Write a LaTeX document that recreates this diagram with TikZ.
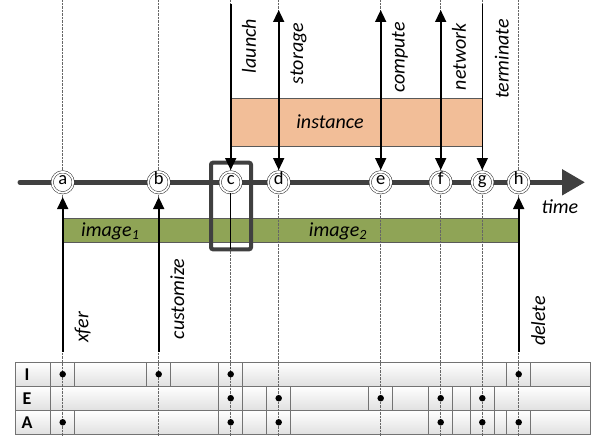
\documentclass[tikz,border=0pt]{standalone}
\usepackage{fontspec}
\setmainfont{Carlito}
\usetikzlibrary{arrows.meta}
\definecolor{tlgray}{HTML}{404040}
\definecolor{peach}{HTML}{F2BE98}
\definecolor{olivebar}{HTML}{8FA456}
\begin{document}
\begin{tikzpicture}[x=1pt,y=-1pt,
  lbl/.style={font=\fontsize{20}{20}\selectfont\itshape, inner sep=0},
  vlbl/.style={lbl, rotate=90},
  ev/.style={circle, draw=black!85, line width=0.5pt, double=white, double distance=1.8pt, fill=white, minimum size=21pt, inner sep=0, font=\fontsize{18.5}{18.5}\selectfont, text height=0.72em, text depth=0.2em},
  arr/.style={line width=1.6pt, -{Triangle[length=12pt,width=11pt]}},
  darr/.style={line width=1.6pt, {Triangle[length=12pt,width=11pt]}-{Triangle[length=12pt,width=11pt]}},
  guide/.style={black!60, line width=0.6pt, dash pattern=on 0.7pt off 0.7pt},
  tcellst/.style={draw=black!55, line width=0.6pt, top color=white, bottom color=black!12},
  rowlbl/.style={font=\fontsize{18}{18}\selectfont\bfseries, inner sep=0},
  dotst/.style={circle, fill=black, inner sep=0, minimum size=6.5pt}
]
\useasboundingbox (0,0) rectangle (592,436);

% bars
\draw[draw=black!65, line width=0.6pt, fill=peach] (230.7,98.3) rectangle (482.3,146);
\draw[draw=black!65, line width=0.6pt, fill=olivebar] (62.7,218.3) rectangle (518.7,242.3);

% table
\foreach \xl/\xr in {15/50.7,50.7/74.7,74.7/146.7,146.7/170.7,170.7/218.7,218.7/242.7,242.7/506.7,506.7/530.7,530.7/590}
  \draw[tcellst] (\xl,362.3) rectangle (\xr,386);
\foreach \xl/\xr in {15/50.7,50.7/218.7,218.7/242.7,242.7/266.7,266.7/290.7,290.7/368.7,368.7/392.7,392.7/428.7,428.7/452.7,452.7/470.3,470.3/494.3,494.3/590}
  \draw[tcellst] (\xl,386) rectangle (\xr,410.3);
\foreach \xl/\xr in {15/50.7,50.7/74.7,74.7/218.7,218.7/242.7,242.7/266.7,266.7/290.7,290.7/428.7,428.7/452.7,452.7/470.3,470.3/494.3,494.3/506.7,506.7/530.7,530.7/590}
  \draw[tcellst] (\xl,410.3) rectangle (\xr,434.3);
\node[rowlbl] (rI) at (27,374.2) {I};
\node[rowlbl] (rE) at (27,398.2) {E};
\node[rowlbl] (rA) at (27,422.3) {A};

% guide lines
\foreach \x in {62.7,158.7,230.7,278.7,380.7,440.7,482.3,518.7}
  \draw[guide] (\x,0) -- (\x,436);

% dots
\foreach \x in {62.7,158.7,230.7,518.7}
  \node[dotst] at (\x,374.2) {};
\foreach \x in {230.7,278.7,380.7,440.7,482.3}
  \node[dotst] at (\x,398.2) {};
\foreach \x in {62.7,230.7,278.7,440.7,482.3,518.7}
  \node[dotst] at (\x,422.3) {};

% focus rectangle
\draw[tlgray, line width=4pt, rounded corners=2pt] (211,162.7) rectangle (251,249.3);

% timeline
\coordinate (tstart) at (20,182.3);
\coordinate (tend) at (585,182.3);
\draw[tlgray, line width=5pt, line cap=round, -{Triangle[length=23pt,width=25pt]}] (tstart) -- (tend);

% events
\node[ev] (ca) at (62.7,182.3) {a};
\node[ev] (cb) at (158.7,182.3) {b};
\node[ev] (cc) at (230.7,182.3) {c};
\node[ev] (cd) at (278.7,182.3) {d};
\node[ev] (ce) at (380.7,182.3) {e};
\node[ev] (cf) at (440.7,182.3) {f};
\node[ev] (cg) at (482.3,182.3) {g};
\node[ev] (ch) at (518.7,182.3) {h};

% top connectors
\coordinate (launchtop) at (230.7,4);
\coordinate (storagetop) at (278.7,10);
\coordinate (computetop) at (380.7,10);
\coordinate (networktop) at (440.7,10);
\coordinate (terminatetop) at (482.3,4);
\draw[arr, shorten >=1.5pt] (launchtop) -- (cc.north);
\draw[darr, shorten >=1.5pt] (storagetop) -- (cd.north);
\draw[darr, shorten >=1.5pt] (computetop) -- (ce.north);
\draw[darr, shorten >=1.5pt] (networktop) -- (cf.north);
\draw[arr, shorten >=1.5pt] (terminatetop) -- (cg.north);

% bottom connectors
\coordinate (xferbot) at (62.7,351.7);
\coordinate (custbot) at (158.7,351.7);
\coordinate (delbot) at (518.7,351.7);
\coordinate (cbot) at (230.7,249.3);
\draw[arr, shorten >=4pt] (xferbot) -- (ca.south);
\draw[arr, shorten >=4pt] (custbot) -- (cb.south);
\draw[arr, shorten >=4pt] (delbot) -- (ch.south);
\draw[line width=0.8pt] (cc.south) -- (cbot);

% labels
\node[lbl] (linst) at (330,122) {instance};
\node[lbl] (limg1) at (110.3,231) {image\textsubscript{1}};
\node[lbl] (limg2) at (338,231) {image\textsubscript{2}};
\node[lbl] (ltime) at (560,206.7) {time};
\node[vlbl] (llaunch) at (249,46) {launch};
\node[vlbl] (lstorage) at (298.5,53.5) {storage};
\node[vlbl] (lcompute) at (400,57.5) {compute};
\node[vlbl] (lnetwork) at (459,56.7) {network};
\node[vlbl] (lterminate) at (501.7,59) {terminate};
\node[vlbl] (lxfer) at (82.7,327.5) {xfer};
\node[vlbl] (lcustomize) at (177.3,299) {customize};
\node[vlbl] (ldelete) at (538.3,321) {delete};
\end{tikzpicture}
\end{document}
